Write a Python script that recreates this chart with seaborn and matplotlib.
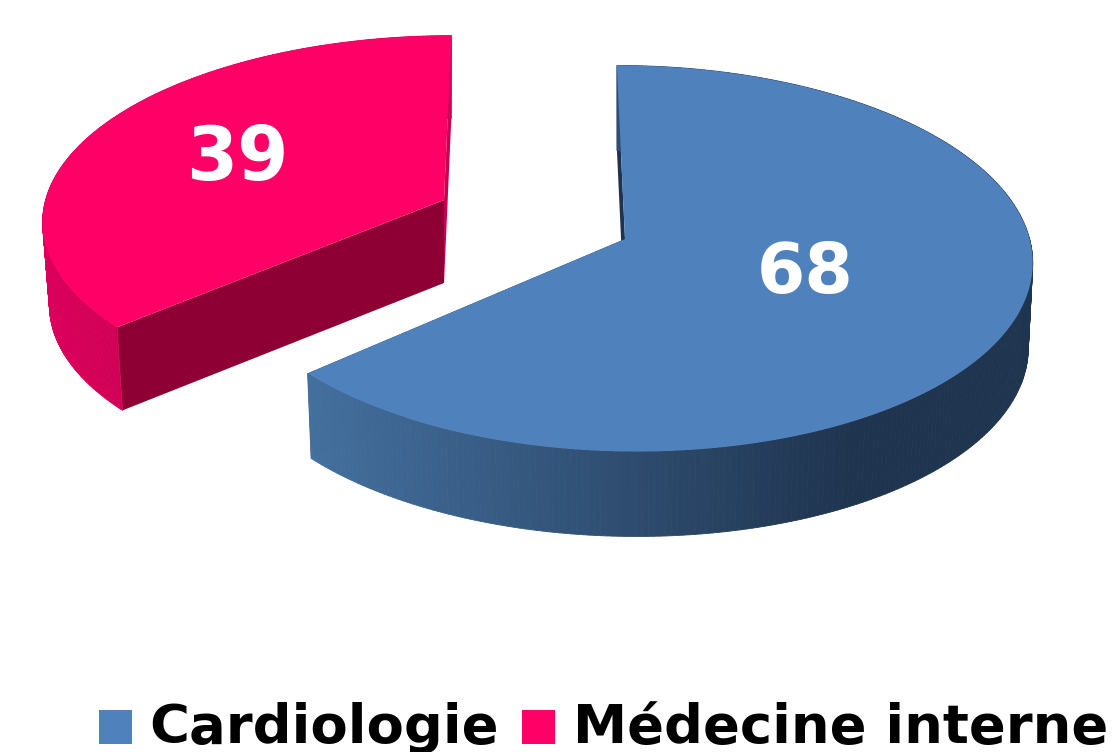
import numpy as np
import seaborn as sns
import matplotlib
from matplotlib import pyplot as plt
from matplotlib.collections import PolyCollection
from matplotlib.patches import Patch
matplotlib.use('Agg')

categories = ['Cardiologie', 'Médecine interne']
values = [68, 39]
top_colors = ['#4F81BD', '#FF0066']

# how each slice sits on the picture (pixels)
apex = [(625, 239), (444, 200)]
radius_x = [403, 400]
radius_y = [191, 181]
skew = [0.047, -0.045]
depth = [85, 83]
taper = [0.011, 0.017]
label_shift = [(-10, -6), (-13, 0)]
label_frac = [0.5, 0.55]
label_sizes = [50, 53]
side_ramps = [['#44709F', '#1F344F'], ['#DB005C', '#CF0055']]
ramp_span = [(306, 850), (44, 130)]
cut_colors = [('#1F3350', '#1F3350'), ('#8E0033', '#C8004F')]

PERSP_V = 0.101
PERSP_U = 0.004


def project(theta, i, frac=1.0):
    # theta is clockwise from the top of the pie, in radians
    u = np.sin(theta) * frac
    v = np.cos(theta) * frac
    s = 1 / (1 + PERSP_V * v - PERSP_U * u)
    dy = -radius_y[i] * v * s
    x = apex[i][0] + radius_x[i] * u * s + skew[i] * dy
    y = apex[i][1] + dy
    return x, y


def drop(x, y, i):
    # same point on the underside of the slice
    return x - taper[i] * (x - apex[i][0]), y + depth[i]


def cut_face(ax, theta, i, color):
    xe, ye = project(np.array([theta]), i)
    ax0, ay0 = apex[i]
    bx0, by0 = drop(ax0, ay0, i)
    bxe, bye = drop(xe[0], ye[0], i)
    ax.fill([ax0, xe[0], bxe, bx0], [ay0, ye[0], bye, by0], color=color, lw=0)


sns.set_theme(style='white')
fig, ax = plt.subplots(figsize=(11.12, 7.52), dpi=100)
fig.subplots_adjust(0, 0, 1, 1)
ax.set_xlim(0, 1112)
ax.set_ylim(752, 0)
ax.axis('off')

total = sum(values)
start = 0.0
for i, val in enumerate(values):
    end = start + val / total * 2 * np.pi
    theta = np.linspace(start, end, 300)
    x, y = project(theta, i)
    bx, by = drop(x, y, i)

    # the two flat cut walls go first, the rim hides the one facing away
    cut_face(ax, end, i, cut_colors[i][1])
    cut_face(ax, start, i, cut_colors[i][0])

    # outer rim, colour follows x
    ramp = sns.blend_palette(side_ramps[i], 256)
    quads = []
    cols = []
    for k in range(len(x) - 1):
        quads.append([(x[k], y[k]), (x[k + 1], y[k + 1]), (bx[k + 1], by[k + 1]), (bx[k], by[k])])
        t = (x[k] - ramp_span[i][0]) / (ramp_span[i][1] - ramp_span[i][0])
        cols.append(ramp[int(np.clip(t, 0, 1) * 255)])
    ax.add_collection(PolyCollection(quads, facecolors=cols, edgecolors=cols, linewidths=0.6))

    ax.fill(np.r_[apex[i][0], x], np.r_[apex[i][1], y], color=top_colors[i], lw=0)

    lx, ly = project(np.array([(start + end) / 2]), i, label_frac[i])
    ax.text(lx[0] + label_shift[i][0], ly[0] + label_shift[i][1], str(val), color='white',
            fontsize=label_sizes[i], fontweight='bold', ha='center', va='center', family='DejaVu Sans')
    start = end

handles = [Patch(facecolor=c, edgecolor='none') for c in top_colors]
leg = ax.legend(handles, categories, ncol=2, loc='lower left', bbox_to_anchor=(0.089, -0.003),
                frameon=False, borderpad=0, borderaxespad=0, handlelength=0.6, handleheight=0.58,
                handletextpad=0.33, columnspacing=0.42, labelcolor='black',
                prop={'family': 'DejaVu Sans', 'weight': 'bold', 'size': 39.2})
for p in leg.get_patches():
    p.set_y(p.get_y() - 2)

plt.savefig('out.png', dpi=100)
plt.close()
